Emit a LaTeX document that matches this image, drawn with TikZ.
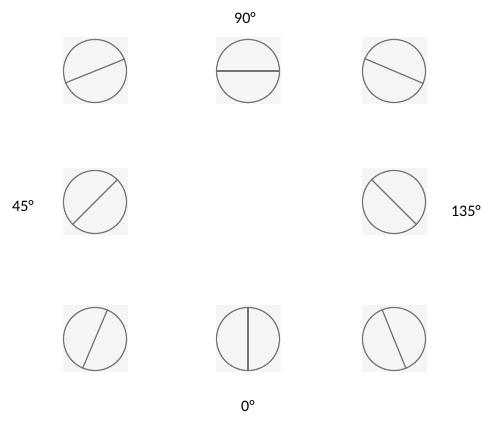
\documentclass[tikz,border=0pt]{standalone}
\usepackage{fontspec}
\setmainfont{Carlito}
\begin{document}
\begin{tikzpicture}[
  x=1pt, y=1pt,
  font=\fontsize{16}{19}\selectfont,
  tile/.style={rectangle, fill=black!4, draw=none, minimum width=65pt,
               minimum height=67pt, inner sep=0pt},
  dial/.style={circle, draw=black!55, line width=1.2pt, minimum size=63pt,
               inner sep=0pt},
  cut/.style={draw=black!55, line width=1.2pt},
  lab/.style={inner sep=1pt, text=black}
]
\useasboundingbox (0,0) rectangle (483,423);

% ---------------- tiles ----------------
\node[tile] (t67) at (95, 352) {};
\node[tile] (t90) at (248, 352) {};
\node[tile] (t112) at (394, 352) {};
\node[tile] (t45) at (95, 221) {};
\node[tile] (t135) at (394, 221) {};
\node[tile] (t22) at (95, 84) {};
\node[tile] (t0) at (248, 84) {};
\node[tile] (t157) at (394, 84) {};

% ---------------- dials ----------------
\node[dial] (dial67) at (t67) {};
\node[dial] (dial90) at (t90) {};
\node[dial] (dial112) at (t112) {};
\node[dial] (dial45) at (t45) {};
\node[dial] (dial135) at (t135) {};
\node[dial] (dial22) at (t22) {};
\node[dial] (dial0) at (t0) {};
\node[dial] (dial157) at (t157) {};

% the cut through each dial, tilted by its angle
\draw[cut] (dial67.22.5) -- (dial67.202.5);
\draw[cut] (dial90.0) -- (dial90.180);
\draw[cut] (dial112.157.5) -- (dial112.337.5);
\draw[cut] (dial45.45) -- (dial45.225);
\draw[cut] (dial135.135) -- (dial135.315);
\draw[cut] (dial22.67.5) -- (dial22.247.5);
\draw[cut] (dial0.90) -- (dial0.270);
\draw[cut] (dial157.112.5) -- (dial157.292.5);

% ---------------- angles ----------------
\node[lab] (l90) at (245, 405) {90°};
\node[lab] (l45) at (23, 217) {45°};
\node[lab] (l135) at (466, 212) {135°};
\node[lab] (l0) at (248, 17) {0°};

\end{tikzpicture}
\end{document}
